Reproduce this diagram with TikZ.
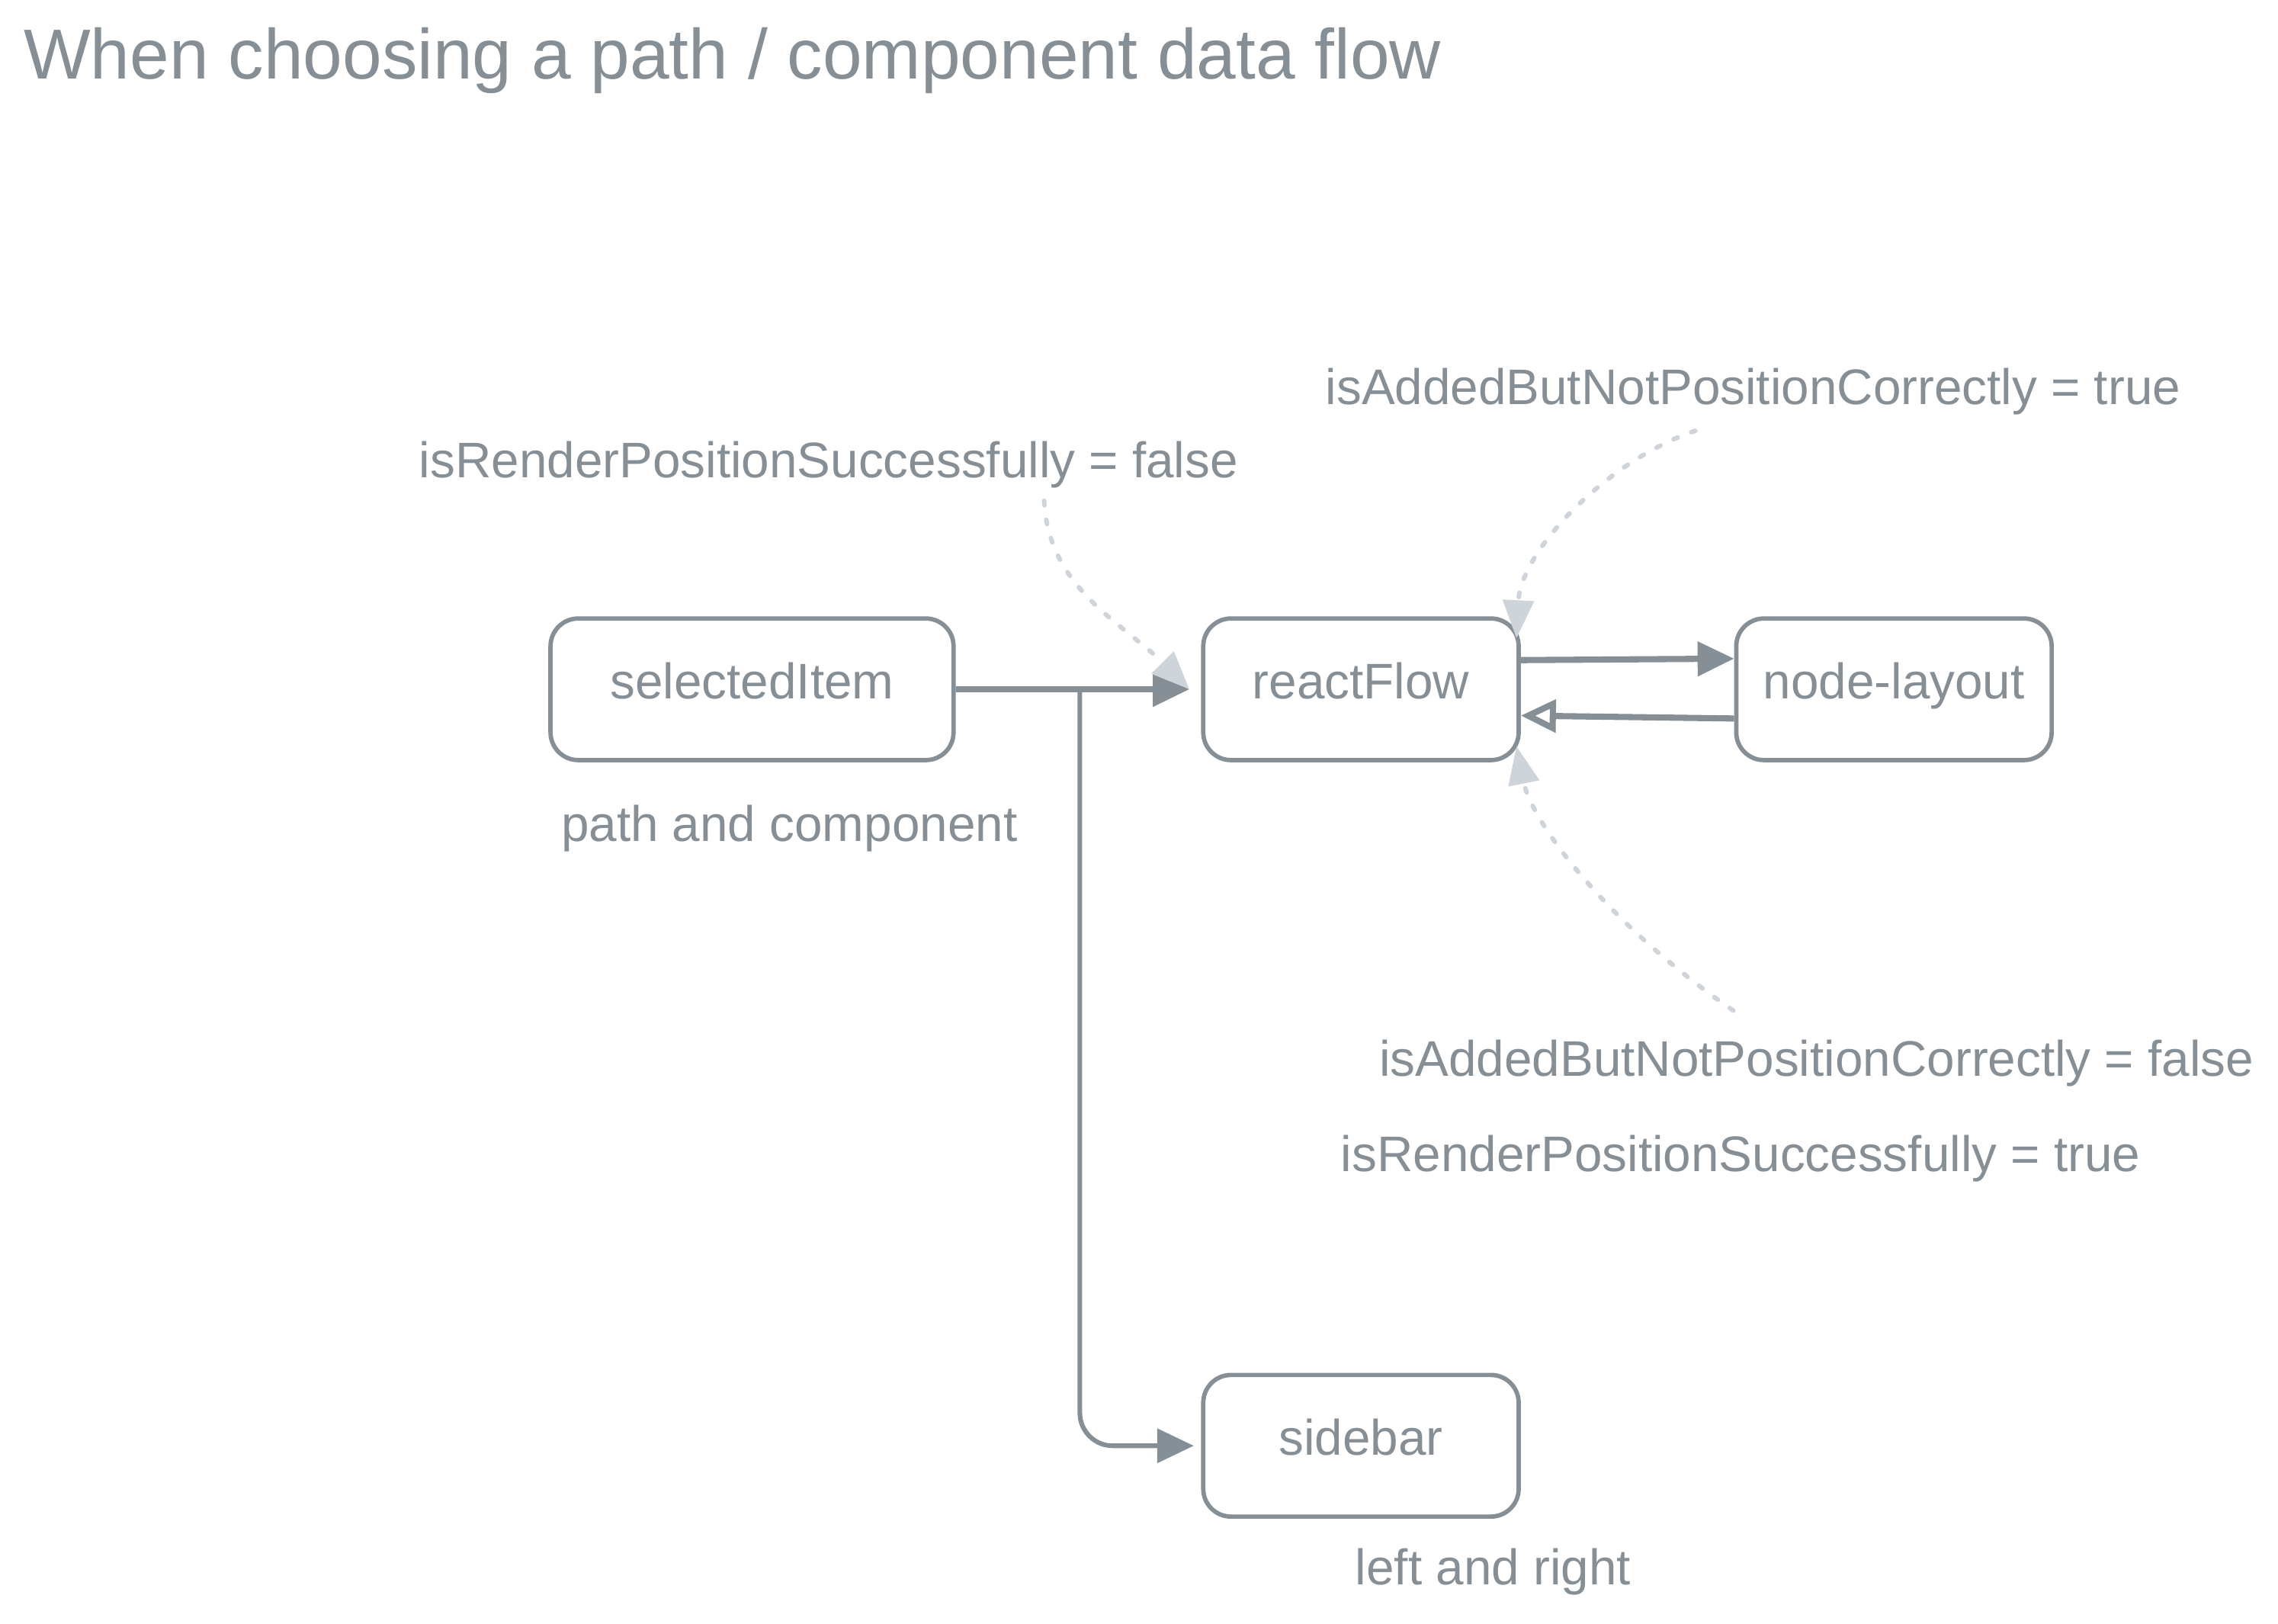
\documentclass[tikz,border=0pt]{standalone}
\usepackage{fontspec}
\setmainfont{Liberation Sans}
\usepackage{xcolor}
\usepackage{tikz}
\usetikzlibrary{arrows.meta,calc}
\definecolor{inkgray}{HTML}{868E96}
\definecolor{hintgray}{HTML}{CED4DA}

\begin{document}
\begin{tikzpicture}[x=0.02cm,y=0.02cm,
    box/.style={draw=inkgray, line width=1.7pt, rounded corners=0.38cm, minimum height=1.94cm,
        text=inkgray, font=\fontsize{19.5}{23}\selectfont, text height=1.6ex, text depth=0.25ex},
    note/.style={text=inkgray, font=\fontsize{19.5}{23}\selectfont, inner sep=0pt},
    flow/.style={draw=inkgray, line width=2.4pt, -{Triangle[length=0.5cm,width=0.46cm]}},
    hint/.style={draw=hintgray, line width=1.8pt, line cap=round, dash pattern=on 0.06cm off 0.2cm,
        -{Triangle[length=0.52cm,width=0.42cm]}}]
\useasboundingbox (0,0) rectangle (1560,-1112);

\node[anchor=base west, inner sep=0pt, text=inkgray, font=\fontsize{27.6}{32}\selectfont]
    (title) at (16,-54) {When choosing a path / component data flow};

% boxes
\foreach \name/\x/\y/\w/\txt in {si/515/472/276/selectedItem, rf/932/472/216/reactFlow,
                                 nl/1297/472/216/node-layout, sb/932/990/216/sidebar} {
    \node[box, minimum width=\w*0.02cm] (\name) at (\x,-\y) {\txt};
}

% side notes
\foreach \name/\x/\y/\txt in {pc/540.5/576/path and component, lr/1022.5/1085/left and right,
                              rpf/567.5/327/isRenderPositionSuccessfully = false,
                              abt/1200.5/277/isAddedButNotPositionCorrectly = true,
                              abf/1244/737/isAddedButNotPositionCorrectly = false,
                              rpt/1192/802/isRenderPositionSuccessfully = true} {
    \node[note, anchor=base] (\name) at (\x,-\y) {\txt};
}

% data flow
\draw[flow, line width=1.8pt] (si.east) -- ++(85,0) [rounded corners=0.45cm] |- ([xshift=-0.1cm]sb.west);
\draw[flow, shorten >=0.16cm] (si.east) -- (rf.west);
\draw[flow] ([yshift=0.4cm]rf.east) -- ([yshift=0.42cm]nl.west);
\draw[draw=inkgray, line width=2.4pt, -{Triangle[open,length=0.48cm,width=0.44cm]}]
    ([yshift=-0.4cm]nl.west) -- ([yshift=-0.36cm]rf.east);

% flags
\coordinate (ha) at (715,-343);
\coordinate (hb) at (1161,-295);
\coordinate (hc) at (1187,-692);
\draw[hint] (ha) .. controls +(3,-60) and +(-45,45) .. ([xshift=-0.16cm]rf.west);
\draw[hint] (hb) .. controls +(-60,-20) and +(3,60) .. ([shift={(-3,-15)}]rf.north east);
\draw[hint] (hc) .. controls +(-90,62) and +(10,-50) .. ([shift={(-3,11)}]rf.south east);
\end{tikzpicture}
\end{document}
